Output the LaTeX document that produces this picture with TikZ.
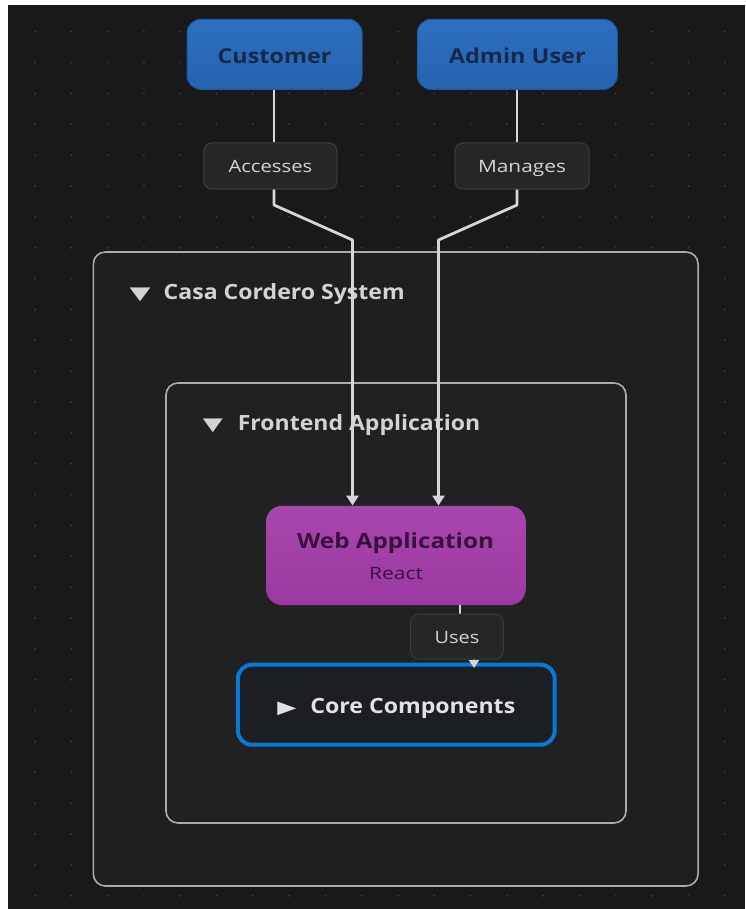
\documentclass[tikz,border=0pt]{standalone}
\usepackage{fontspec}
\usepackage{graphicx}
\usetikzlibrary{arrows.meta}
\setmainfont{Open Sans}
\newfontfamily\symfont{DejaVu Sans}
\newcommand\semib{\bfseries}

% stretch a piece of text horizontally to a given width (in pt)
\newsavebox\fitbox
\newcommand\fitto[2]{\sbox\fitbox{#2}\pgfmathsetmacro\fitratio{#1/\wd\fitbox}\scalebox{\fitratio}[1]{\usebox\fitbox}}

\definecolor{canvas}{HTML}{191919}
\definecolor{dotc}{HTML}{3C3C3C}
\definecolor{framec}{HTML}{ABABAB}
\definecolor{sysfill}{HTML}{1F1F1F}
\definecolor{frontfill}{HTML}{212121}
\definecolor{linkc}{HTML}{D6D6D6}
\definecolor{actortop}{HTML}{2E6FC0}
\definecolor{actorbot}{HTML}{2463AE}
\definecolor{actordraw}{HTML}{1E58A0}
\definecolor{actortext}{HTML}{17294A}
\definecolor{lblfill}{HTML}{262626}
\definecolor{lbldraw}{HTML}{3B3B3B}
\definecolor{lbltext}{HTML}{D4D4D4}
\definecolor{titletext}{HTML}{D3D3D3}
\definecolor{webtop}{HTML}{A946AE}
\definecolor{webbot}{HTML}{9A39A0}
\definecolor{webtext}{HTML}{3A1040}
\definecolor{corefill}{HTML}{1B1E23}
\definecolor{coredraw}{HTML}{0A78D6}
\definecolor{coretext}{HTML}{E2E2E2}

\begin{document}
\begin{tikzpicture}[x=1pt,y=-1pt,
  frame/.style={draw=framec,line width=1.6pt,rounded corners=12pt,inner sep=0pt},
  actor/.style={draw=actordraw,line width=1pt,top color=actortop,bottom color=actorbot,
    rounded corners=14pt,inner sep=0pt,text=actortext,
    font=\semib\fontsize{20.5}{24}\selectfont,text height=17.6pt,text depth=0pt},
  tag/.style={draw=lbldraw,line width=1pt,fill=lblfill,rounded corners=8pt,inner sep=0pt,
    text=lbltext,font=\fontsize{17}{20}\selectfont,text height=13.6pt,text depth=0pt},
  grouptitle/.style={inner sep=0pt,anchor=base west,text=titletext,
    font=\semib\fontsize{21}{25}\selectfont},
  link/.style={draw=linkc,line width=2.8pt,line join=round},
  bigtip/.style={-{Triangle[width=12pt,length=10pt]}},
  smalltip/.style={-{Triangle[width=10pt,length=8pt]}}]

\useasboundingbox (0,0) rectangle (745,909);
\fill[white] (0,0) rectangle (745,909);
\fill[canvas] (8,5) rectangle (745,909);

% dotted canvas grid
\foreach \i in {0,...,19}
  \foreach \j in {0,...,28}
    \fill[dotc] ({35+36.3*\i},{31.7+30.86*\j}) circle (1.1);

% nested groups
\node[frame,fill=sysfill,minimum width=604.7,minimum height=634] (system) at (395.7,569) {};
\node[grouptitle] (systitle) at (129.5,299.5)
  {\fitto{21}{\symfont\fontsize{18}{20}\selectfont ▼}\hspace{13pt}\fitto{241}{Casa Cordero System}};
\node[frame,fill=frontfill,minimum width=460,minimum height=440] (front) at (396,603) {};
\node[grouptitle] (fronttitle) at (202.6,430)
  {\fitto{20}{\symfont\fontsize{18}{20}\selectfont ▼}\hspace{15pt}\fitto{242.5}{Frontend Application}};

% actors
\node[actor,minimum width=175,minimum height=70] (customer) at (274.5,54.3) {\fitto{114}{Customer}};
\node[actor,minimum width=200,minimum height=70] (admin) at (517.3,54.3) {\fitto{137}{Admin User}};

% web application
\node[top color=webtop,bottom color=webbot,rounded corners=16pt,inner sep=0pt,
  minimum width=259.7,minimum height=99.3] (web) at (395.9,555.4) {};
\node[anchor=base,inner sep=0pt,text=webtext,font=\semib\fontsize{21}{25}\selectfont]
  (webname) at (395.5,548.5) {\fitto{197}{Web Application}};
\node[anchor=base,inner sep=0pt,text=webtext,font=\fontsize{17}{20}\selectfont]
  (webtech) at (396,579.5) {\fitto{54}{React}};

% core components
\node[draw=coredraw,line width=4pt,fill=corefill,rounded corners=14pt,inner sep=0pt,
  minimum width=316.7,minimum height=80,text=coretext,
  font=\semib\fontsize{21}{25}\selectfont,text height=16.8pt,text depth=0pt] (core) at (396.3,704.7)
  {\fitto{19}{\symfont\fontsize{18}{20}\selectfont ▶}\hspace{14pt}\fitto{205}{Core Components}};

% connector routes
\coordinate (ca) at (274,205);
\coordinate (cb) at (352.5,240);
\coordinate (ma) at (517,205);
\coordinate (mb) at (438.5,240);
\coordinate (ua) at (460,636);
\coordinate (ub) at (474,636);
\coordinate (uc) at (474,668);

\node[tag,minimum width=133,minimum height=46] (acc) at (270.4,166) {};
\node[tag,minimum width=134,minimum height=46] (man) at (522,166) {};

\draw[link] (ca |- customer.south) -- (ca |- acc.north);
\draw[link,bigtip] (ca |- acc.south) -- (ca) -- (cb) -- (cb |- web.north);
\draw[link] (ma |- admin.south) -- (ma |- man.north);
\draw[link,bigtip] (ma |- man.south) -- (ma) -- (mb) -- (mb |- web.north);
\draw[link,smalltip] (ua |- web.south) -- (ua) -- (ub) -- (uc);

% edge labels
\node[tag,minimum width=133,minimum height=46] at (acc) {\fitto{83.7}{Accesses}};
\node[tag,minimum width=134,minimum height=46] at (man) {\fitto{88}{Manages}};
\node[tag,minimum width=92.6,minimum height=45] (uses) at (457,636.7) {\fitto{44.7}{Uses}};
\end{tikzpicture}
\end{document}
